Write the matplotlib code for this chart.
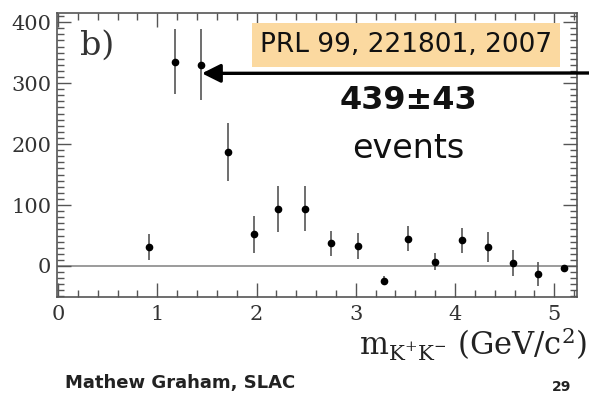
import numpy as np
import matplotlib.pyplot as plt
from matplotlib.patches import Rectangle
from matplotlib.ticker import MultipleLocator

# -----------------------------
# Data
# -----------------------------
mass = [0.92, 1.18, 1.44, 1.71, 1.97, 2.22, 2.49, 2.75, 3.02, 3.28,
        3.53, 3.80, 4.07, 4.33, 4.58, 4.84, 5.10]
counts = [31, 335, 330, 187, 52, 93, 94, 37, 33, -24,
          45, 7, 42, 31, 5, -13, -3]
errors = [22, 53, 58, 48, 30, 38, 37, 20, 21, 8,
          20, 14, 21, 24, 22, 20, 5]

ref_text = "PRL 99, 221801, 2007"
yield_text = "439\u00b143"
footer_left = "Mathew Graham, SLAC"
footer_right = "29"

serif = "DejaVu Serif"
sans = "DejaVu Sans"

fig = plt.figure(figsize=(5.89, 3.94), dpi=100)
ax = fig.add_axes([0.0968, 0.246, 0.883, 0.721])

# zero line
ax.axhline(0, color="#8a8a8a", lw=1.2, zorder=1)

# data points with error bars
ax.errorbar(mass, counts, yerr=errors, fmt="o", color="black",
            ecolor="#555555", elinewidth=1.2, markersize=4.5, capsize=0, zorder=3)

ax.set_xlim(-0.01, 5.23)
ax.set_ylim(-51, 415)

# ticks (ROOT style, inward on all sides)
ax.xaxis.set_major_locator(MultipleLocator(1))
ax.xaxis.set_minor_locator(MultipleLocator(0.2))
ax.yaxis.set_major_locator(MultipleLocator(100))
ax.yaxis.set_minor_locator(MultipleLocator(10))
ax.tick_params(which="both", direction="in", top=True, right=True,
               color="#555555", width=1.0)
ax.tick_params(which="major", length=10, labelsize=15)
ax.tick_params(axis="x", which="major", pad=6)
ax.tick_params(axis="y", which="major", pad=4)
ax.tick_params(which="minor", length=5)
for lab in ax.get_xticklabels() + ax.get_yticklabels():
    lab.set_family(serif)
    lab.set_color("#333333")
for sp in ax.spines.values():
    sp.set_color("#555555")
    sp.set_linewidth(1.2)

# panel label
ax.text(0.045, 0.94, "b)", transform=ax.transAxes, family=serif,
        fontsize=24, va="top", ha="left", color="#333333")

# x axis label
fig.text(0.997, 0.125, r"$\mathregular{m_{K^{+}K^{-}}}$ (GeV/c$^{\mathregular{2}}$)",
         family=serif, fontsize=22, ha="right", va="center", color="#222222")

# reference box
fig.add_artist(Rectangle((252 / 589, 1 - 67 / 394), 308 / 589, 44 / 394,
                         transform=fig.transFigure, facecolor="#fbd9a0",
                         edgecolor="none", zorder=2))
fig.text(0.689, 0.886, ref_text, family=sans, fontsize=19, ha="center",
         va="center", color="#111111", zorder=3)

# arrow pointing at the peak
ax.annotate("", xy=(1.45, 316), xycoords="data",
            xytext=(1.0, 1 - 73 / 394), textcoords="figure fraction",
            arrowprops=dict(arrowstyle="-|>", lw=2.4, color="black",
                            mutation_scale=28, shrinkA=0, shrinkB=0),
            annotation_clip=False)

fig.text(0.693, 0.745, yield_text, family=sans, fontsize=23, weight="bold",
         ha="center", va="center", color="#111111")
fig.text(0.693, 0.622, "events", family=sans, fontsize=24,
         ha="center", va="center", color="#111111")

# footer
fig.text(0.11, 0.028, footer_left, family=sans, fontsize=13, weight="bold",
         ha="left", va="center", color="#222222")
fig.text(0.953, 0.018, footer_right, family=sans, fontsize=10, weight="bold",
         ha="center", va="center", color="#222222")

plt.savefig("out.png", dpi=100)
